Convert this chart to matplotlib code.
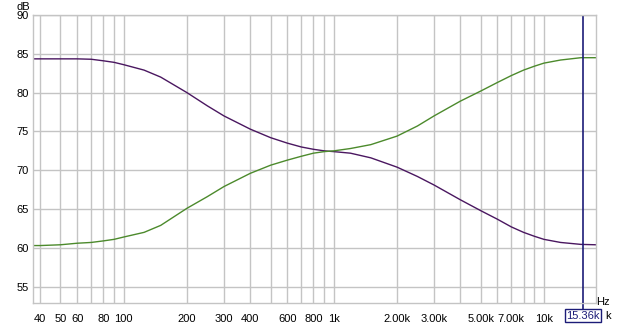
import matplotlib

matplotlib.use("Agg")
import matplotlib.pyplot as plt
from matplotlib.ticker import FixedLocator, NullFormatter

# frequency points (Hz)
freqs = [37, 40, 50, 60, 70, 80, 90, 100, 125, 150, 200, 250, 300, 400, 500,
         600, 700, 800, 900, 1000, 1200, 1500, 2000, 2500, 3000, 4000, 5000,
         6000, 7000, 8000, 9000, 10000, 12000, 15000, 17700]

# purple trace (falling shelf), dB
purple_db = [84.35, 84.35, 84.35, 84.35, 84.3, 84.1, 83.9, 83.6, 82.9, 82.0,
             80.0, 78.3, 77.0, 75.3, 74.2, 73.5, 73.0, 72.7, 72.5, 72.4, 72.2,
             71.6, 70.4, 69.2, 68.1, 66.2, 64.8, 63.7, 62.7, 62.0, 61.5, 61.1,
             60.7, 60.45, 60.4]

# green trace (rising shelf), dB
green_db = [60.3, 60.3, 60.4, 60.6, 60.7, 60.9, 61.1, 61.4, 62.0, 62.9, 65.1,
            66.6, 67.9, 69.6, 70.65, 71.3, 71.8, 72.2, 72.4, 72.5, 72.8, 73.3,
            74.4, 75.7, 77.0, 78.9, 80.2, 81.3, 82.2, 82.9, 83.4, 83.8, 84.2,
            84.5, 84.5]

x_major = [40, 50, 60, 80, 100, 200, 300, 400, 600, 800, 1000, 2000, 3000,
           5000, 7000, 10000]
x_labels = ["40", "50", "60", "80", "100", "200", "300", "400", "600", "800",
            "1k", "2.00k", "3.00k", "5.00k", "7.00k", "10k"]
x_minor = [70, 90, 500, 700, 900, 4000, 6000, 8000, 9000]
y_ticks = [55, 60, 65, 70, 75, 80, 85, 90]
cursor_hz = 15360
cursor_label = "15.36k"

plt.rcParams["font.family"] = ["Liberation Sans", "DejaVu Sans"]

W, H = 620, 325
fig = plt.figure(figsize=(W / 100, H / 100), dpi=100)
ax = fig.add_axes([33 / W, 1 - 303 / H, (596 - 33) / W, (303 - 15) / H])

grid_c = "#c4c4c4"
ax.plot(freqs, purple_db, color="#4a1760", lw=1.0)
ax.plot(freqs, green_db, color="#4c8a2c", lw=1.0)

ax.set_xscale("log")
ax.set_xlim(37, 17700)
ax.set_ylim(52.9, 90)

ax.xaxis.set_major_locator(FixedLocator(x_major))
ax.set_xticklabels(x_labels)
ax.xaxis.set_minor_locator(FixedLocator(x_minor))
ax.xaxis.set_minor_formatter(NullFormatter())
ax.set_yticks(y_ticks)
ax.set_yticklabels([str(v) for v in y_ticks])

ax.grid(True, which="both", color=grid_c, lw=1.0)
ax.set_axisbelow(True)
ax.tick_params(which="both", length=0, labelsize=8, colors="black")
ax.tick_params(axis="x", pad=8)
ax.tick_params(axis="y", pad=3)
for s in ax.spines.values():
    s.set_color(grid_c)
    s.set_linewidth(1.0)

# cursor
cur_c = "#1c1c78"
ax.axvline(cursor_hz, color=cur_c, lw=1.2)
ax.plot([cursor_hz, cursor_hz], [0, -0.024], color=cur_c, lw=1.2,
        transform=ax.get_xaxis_transform(), clip_on=False)
ax.text(cursor_hz, -0.044, cursor_label, transform=ax.get_xaxis_transform(),
        ha="center", va="center", fontsize=8, color=cur_c,
        bbox=dict(boxstyle="square,pad=0.15", fc="white", ec=cur_c, lw=1.0))

fig.text(605 / W, 1 - 316 / H, "k", fontsize=8, ha="left", va="center")
fig.text(603 / W, 1 - 302 / H, "Hz", fontsize=8, ha="center", va="center")
fig.text(23 / W, 1 - 6.5 / H, "dB", fontsize=8, ha="center", va="center")

fig.savefig("out.png", dpi=100, facecolor="white")
